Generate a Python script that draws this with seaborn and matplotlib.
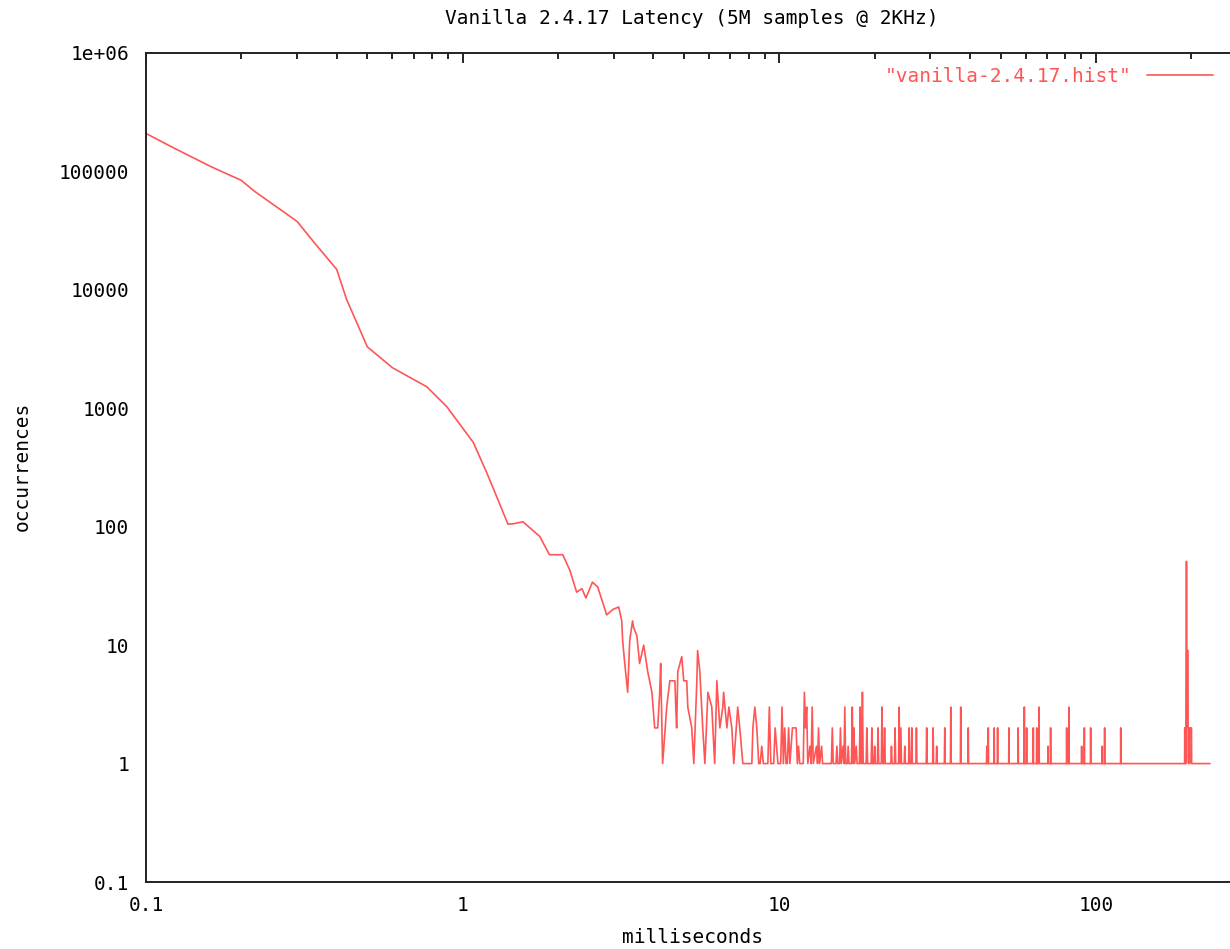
import numpy as np
import pandas as pd
import matplotlib
matplotlib.use("Agg")
import matplotlib.pyplot as plt
import matplotlib.ticker as mticker
import seaborn as sns

# --- DATA ---
# smooth head of the distribution
head_ms = [0.1, 0.12, 0.16, 0.2, 0.22, 0.3, 0.34, 0.4, 0.43, 0.5, 0.6, 0.77, 0.89,
           1.08, 1.19, 1.28, 1.39, 1.45, 1.55, 1.75, 1.88, 2.07, 2.18, 2.29, 2.38,
           2.45, 2.57, 2.67, 2.85, 2.98, 3.11]
head_count = [209000, 162000, 110000, 84000, 68000, 37800, 25000, 14900, 8300, 3300,
              2200, 1520, 1035, 515, 288, 180, 105, 106, 110, 83, 58, 58, 43, 28, 30,
              25, 34, 31, 18, 20, 21]

# noisy middle part
mid_ms = [3.18, 3.2, 3.25, 3.32, 3.37, 3.44, 3.47, 3.55, 3.62, 3.73, 3.84, 3.96, 4.04,
          4.13, 4.19, 4.22, 4.28, 4.41, 4.51, 4.68, 4.71, 4.74, 4.78, 4.92, 4.99, 5.1,
          5.14, 5.29, 5.37, 5.49, 5.52, 5.61, 5.73, 5.82, 5.95, 6.12, 6.25, 6.35, 6.49,
          6.63, 6.67, 6.83, 6.93, 7.08, 7.18, 7.39, 7.5, 7.67, 8.19, 8.25, 8.37, 8.49,
          8.61]
mid_count = [16, 11, 7, 4, 11, 16, 14, 12, 7, 10, 6, 4, 2,
             2, 4, 7, 1, 3, 5, 5, 3, 2, 6, 8, 5, 5,
             3, 2, 1, 5, 9, 6, 2, 1, 4, 3, 1, 5, 2,
             3, 4, 2, 3, 2, 1, 3, 2, 1, 1, 2, 3, 2,
             1]

# long tail, (ms, occurrences)
tail_points = [
    (8.7, 1), (8.8, 1.4), (8.9, 1),
    (9.2, 1), (9.3, 3), (9.4, 1), (9.6, 1), (9.7, 2), (9.8, 1.4), (9.9, 1),
    (10.1, 1), (10.2, 3), (10.3, 1), (10.4, 2), (10.5, 1), (10.6, 1), (10.7, 2),
    (10.8, 1), (11.0, 2), (11.3, 2), (11.4, 1), (11.5, 1.4), (11.6, 1),
    (11.9, 1), (12.0, 4), (12.1, 2), (12.2, 3), (12.3, 1), (12.5, 1.4), (12.6, 1),
    (12.7, 3), (12.8, 1), (13.1, 1.4), (13.2, 1), (13.3, 2), (13.4, 1),
    (13.6, 1.4), (13.7, 1),
    (14.6, 1), (14.7, 2), (14.8, 1), (15.1, 1), (15.2, 1.4), (15.3, 1),
    (15.5, 1), (15.6, 2), (15.7, 1), (15.9, 1.4), (16.0, 1), (16.1, 3), (16.2, 1),
    (16.4, 1), (16.5, 1.4), (16.6, 1),
    (16.9, 1), (17.0, 3), (17.1, 1), (17.2, 2), (17.3, 1), (17.5, 1.4), (17.6, 1),
    (17.9, 1), (18.0, 3), (18.1, 1), (18.2, 1), (18.3, 4), (18.4, 1),
    (18.8, 1), (18.9, 2), (19.0, 1), (19.5, 1), (19.6, 2), (19.7, 1),
    (19.9, 1), (20.0, 1.4), (20.1, 1), (20.4, 1), (20.5, 2), (20.6, 1),
    (21.0, 1), (21.1, 3), (21.2, 1), (21.4, 1), (21.5, 2), (21.6, 1),
    (22.5, 1), (22.6, 1.4), (22.7, 1), (23.1, 1), (23.2, 2), (23.3, 1),
    (23.8, 1), (23.9, 3), (24.0, 1), (24.2, 2), (24.3, 1),
    (24.8, 1), (24.9, 1.4), (25.0, 1), (25.6, 1), (25.7, 2), (25.8, 1),
    (26.1, 1), (26.2, 2), (26.3, 1), (27.0, 1), (27.1, 2), (27.2, 1),
    (29.1, 1), (29.2, 2), (29.3, 1), (30.5, 1), (30.6, 2), (30.7, 1),
    (31.3, 1), (31.4, 1.4), (31.5, 1),
    (33.2, 1), (33.3, 2), (33.4, 1), (34.7, 1), (34.8, 3), (34.9, 1),
    (37.3, 1), (37.4, 3), (37.5, 1), (39.4, 1), (39.5, 2), (39.6, 1),
    (45.1, 1), (45.2, 1.4), (45.3, 1), (45.6, 1), (45.7, 2), (45.8, 1),
    (47.6, 1), (47.7, 2), (47.8, 1), (48.8, 1), (48.9, 2), (49.0, 1),
    (53.0, 1), (53.1, 2), (53.2, 1), (56.7, 1), (56.8, 2), (56.9, 1),
    (59.3, 1), (59.4, 3), (59.5, 1), (60.3, 1), (60.4, 2), (60.5, 1),
    (63.3, 1), (63.4, 2), (63.5, 1), (64.9, 1), (65.0, 2), (65.1, 1),
    (66.0, 1), (66.1, 3), (66.2, 1), (70.5, 1), (70.6, 1.4), (70.7, 1),
    (71.8, 1), (71.9, 2), (72.0, 1), (80.7, 1), (80.8, 2), (80.9, 1),
    (82.1, 1), (82.2, 3), (82.3, 1), (90.0, 1), (90.1, 1.4), (90.2, 1),
    (91.8, 1), (91.9, 2), (92.0, 1), (96.1, 1), (96.2, 2), (96.3, 1),
    (104.6, 1), (104.7, 1.4), (104.8, 1), (106.4, 1), (106.5, 2), (106.6, 1),
    (119.6, 1), (119.7, 2), (119.8, 1.6), (120.0, 1),
    (190.5, 1), (190.7, 2), (191.2, 1), (191.5, 2), (192.0, 1), (192.4, 2),
    (192.9, 2), (193.1, 51), (193.3, 2), (193.6, 9), (195.2, 9), (195.4, 2),
    (196.0, 1), (196.5, 2), (197.5, 1), (198.0, 2), (200.3, 2), (200.5, 1),
    (229.0, 1),
]

y_ticks = [0.1, 1, 10, 100, 1000, 10000, 100000, 1e6]
y_labels = ["0.1", "1", "10", "100", "1000", "10000", "100000", "1e+06"]
x_ticks = [0.1, 1, 10, 100]
x_labels = ["0.1", "1", "10", "100"]

tail_ms = [p[0] for p in tail_points]
tail_count = [p[1] for p in tail_points]
df = pd.DataFrame({
    "ms": head_ms + mid_ms + tail_ms,
    "count": head_count + mid_count + tail_count,
})

# --- STYLE ---
sns.set_style("white")
plt.rcParams["font.family"] = ["DejaVu Sans Mono", "DejaVu Sans"]
plt.rcParams["text.color"] = "black"
RED = "#ff5555"
FS = 14

fig = plt.figure(figsize=(12.3, 9.49), dpi=100)
ax = fig.add_axes([0.1187, 0.0706, 0.8813, 0.8736])

sns.lineplot(data=df, x="ms", y="count", sort=False, estimator=None,
             color=RED, lw=1.2, ax=ax, label='"vanilla-2.4.17.hist"')

ax.set_xscale("log")
ax.set_yscale("log")
ax.set_xlim(0.1, 265)
ax.set_ylim(0.1, 1e6)

ax.set_xticks(x_ticks)
ax.set_xticklabels(x_labels)
ax.set_yticks(y_ticks)
ax.set_yticklabels(y_labels)
ax.xaxis.set_minor_locator(mticker.LogLocator(base=10, subs=np.arange(2, 10), numticks=20))
ax.yaxis.set_minor_locator(mticker.LogLocator(base=10, subs=[2, 5, 8], numticks=20))
ax.xaxis.set_minor_formatter(mticker.NullFormatter())
ax.yaxis.set_minor_formatter(mticker.NullFormatter())

ax.tick_params(axis="both", which="both", direction="in", top=True, right=False,
               labelsize=FS, colors="black")
ax.tick_params(axis="both", which="major", length=7, width=1.2)
ax.tick_params(axis="both", which="minor", length=4, width=1.2)
ax.tick_params(axis="x", which="major", pad=10)
ax.tick_params(axis="y", which="major", pad=12)

for side in ["left", "bottom", "top"]:
    ax.spines[side].set_color("#222222")
    ax.spines[side].set_linewidth(1.4)
ax.spines["right"].set_visible(False)

ax.set_xlabel("")
ax.set_ylabel("")
fig.text(0.5626, 0.981, "Vanilla 2.4.17 Latency (5M samples @ 2KHz)",
         ha="center", va="center", fontsize=FS)
fig.text(0.5634, 0.0126, "milliseconds", ha="center", va="center", fontsize=FS)
fig.text(0.018, 0.509, "occurrences", ha="center", va="center", rotation=90, fontsize=FS)

leg = ax.legend(loc="upper right", frameon=False, markerfirst=False, fontsize=FS,
                handlelength=3.4, handletextpad=0.8, labelcolor=RED,
                borderaxespad=0.3, bbox_to_anchor=(0.997, 1.0))

fig.savefig("out.png", dpi=100)
